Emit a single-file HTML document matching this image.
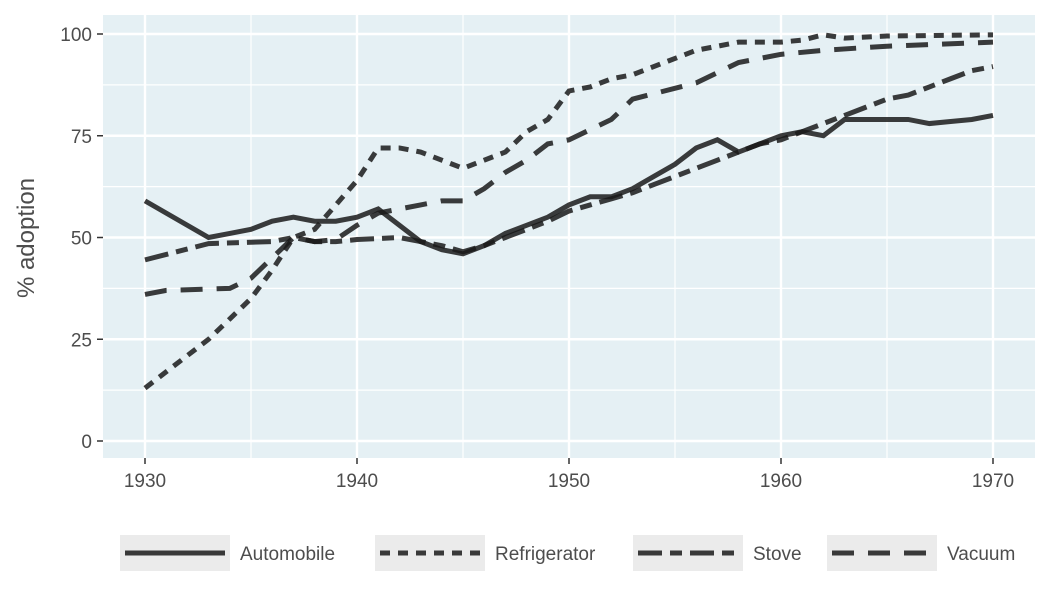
<!DOCTYPE html>
<html><head><meta charset="utf-8"><style>
body{margin:0;background:#fff;font-family:"Liberation Sans",sans-serif}
svg text{font-family:"Liberation Sans",sans-serif;fill:#4d4d4d}
</style></head><body>
<svg id="chart" width="1050" height="600">
<rect x="103" y="15" width="932" height="443" fill="#e5f0f4"/>
<g id="grid"></g>
<g id="lines"></g>
<g id="axes"></g>
<text x="34" y="238" font-size="24" text-anchor="middle" transform="rotate(-90 34 238)">% adoption</text>
<g id="legend"></g>
</svg>
<script>
const years = {
 auto:[1930,1933,1934,1935,1936,1937,1938,1939,1940,1941,1942,1943,1944,1945,1946,1947,1948,1949,1950,1951,1952,1953,1954,1955,1956,1957,1958,1959,1960,1961,1962,1963,1964,1965,1966,1967,1968,1969,1970],
 fridge:[1930,1932,1933,1934,1935,1936,1937,1938,1939,1940,1941,1942,1943,1944,1945,1946,1947,1948,1949,1950,1951,1952,1953,1954,1955,1956,1957,1958,1959,1960,1961,1962,1963,1965,1970],
 stove:[1930,1933,1936,1937,1938,1939,1940,1942,1943,1944,1945,1946,1947,1948,1949,1950,1951,1952,1953,1954,1955,1956,1957,1958,1959,1960,1961,1962,1963,1964,1965,1966,1967,1968,1969,1970],
 vacuum:[1930,1931,1934,1935,1936,1937,1938,1939,1940,1941,1943,1944,1945,1946,1947,1948,1949,1950,1952,1953,1956,1958,1960,1962,1965,1970]
};
const autoVals=[59,50,51,52,54,55,54,54,55,57,53,49,47,46,48,51,53,55,58,60,60,62,65,68,72,74,71,73,75,76,75,79,79,79,79,78,78.5,79,80];
const fridgeVals=[13,21,25,30,35,42,50,52,58,64,72,72,71,69,67,69,71,76,79,86,87,89,90,92,94,96,97,98,98,98,98.5,99.8,99,99.5,99.8];
const stoveVals=[44.5,48.5,49,50,49,49,49.5,50,49,48,46.5,48,50,52,54,56.5,58,59.5,61,63,65,67,69,71,73,74,76,78,80,82,84,85,87,89,91,92];
const vacuumVals=[36,37,37.5,40,45,50,49,49.5,53,56,58,59,59,62,66,69,73,74,79,84,88,93,95,96,97,98];
const xTicks=[1930,1940,1950,1960,1970];
const yTicks=[0,25,50,75,100];
const names=["Automobile","Refrigerator","Stove","Vacuum"];
const dashes=["", "10,8", "24,8,12,8", "22,14"];
const x=v=>145+(v-1930)*21.2, y=v=>441-v*4.07;
const NS="http://www.w3.org/2000/svg";
function mk(t,a,p){const e=document.createElementNS(NS,t);for(const k in a)e.setAttribute(k,a[k]);p.appendChild(e);return e;}
const grid=document.getElementById('grid'),axes=document.getElementById('axes'),lines=document.getElementById('lines'),leg=document.getElementById('legend');
for(let i=0;i<yTicks.length;i++){const yy=y(yTicks[i]);
 if(i<yTicks.length-1){const g=mk('line',{x1:103,x2:1035,y1:(yy+y(yTicks[i+1]))/2,y2:(yy+y(yTicks[i+1]))/2,stroke:'#fff','stroke-width':1.2},grid);}
 const l=mk('line',{x1:103,x2:1035,y1:yy,y2:yy,stroke:'#fff','stroke-width':2.4},grid);
 mk('line',{x1:97,x2:103,y1:yy,y2:yy,stroke:'#333','stroke-width':1.5},axes);
 const t=mk('text',{x:92,y:yy+7,'font-size':19,'text-anchor':'end'},axes);t.textContent=yTicks[i];}
for(let i=0;i<xTicks.length;i++){const xx=x(xTicks[i]);
 if(i<xTicks.length-1){const g=mk('line',{x1:xx+106,x2:xx+106,y1:15,y2:458,stroke:'#fff','stroke-width':1.2},grid);}
 const l=mk('line',{x1:xx,x2:xx,y1:15,y2:458,stroke:'#fff','stroke-width':2.4},grid);
 mk('line',{x1:xx,x2:xx,y1:458,y2:464,stroke:'#333','stroke-width':1.5},axes);
 const t=mk('text',{x:xx,y:487,'font-size':19,'text-anchor':'middle'},axes);t.textContent=xTicks[i];}
const series=[[years.auto,autoVals],[years.fridge,fridgeVals],[years.stove,stoveVals],[years.vacuum,vacuumVals]];
series.forEach((s,i)=>{const d=s[0].map((yr,j)=>(j?'L':'M')+x(yr)+','+y(s[1][j])).join('');
 const p=mk('path',{d,fill:'none',stroke:'#1a1a1a','stroke-opacity':0.85,'stroke-width':5,'stroke-dasharray':dashes[i]},lines);
 });
const lx=[120,375,633,827];
names.forEach((n,i)=>{const g=mk('g',{},leg);
 mk('rect',{x:lx[i],y:535,width:110,height:36,fill:'#ebebeb'},g);
 mk('line',{x1:lx[i]+5,x2:lx[i]+105,y1:553,y2:553,stroke:'#1a1a1a','stroke-opacity':0.85,'stroke-width':5,'stroke-dasharray':dashes[i]},g);
 const t=mk('text',{x:lx[i]+120,y:560,'font-size':19},g);t.textContent=n;});
</script>
</body></html>
